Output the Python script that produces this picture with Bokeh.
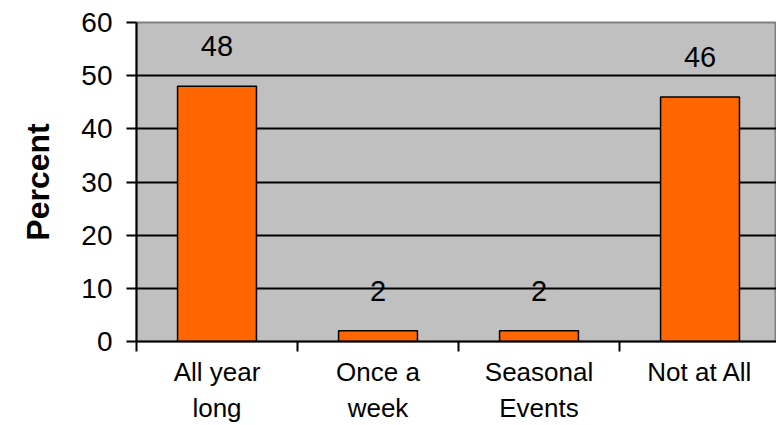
from bokeh.plotting import figure
from bokeh.models import ColumnDataSource, FixedTicker, Range1d
from bokeh.core.properties import value
from bokeh.embed import file_html
from bokeh.resources import INLINE

categories = ["All year\nlong", "Once a\nweek", "Seasonal\nEvents", "Not at All"]
values = [48, 2, 2, 46]
y_ticks = [0, 10, 20, 30, 40, 50, 60]

FONT = "Liberation Sans"

pos = [i + 0.5 for i in range(len(categories))]
src = ColumnDataSource(dict(x=pos, top=values, label=[str(v) for v in values]))

p = figure(width=776, height=425, output_backend="svg", toolbar_location=None,
           x_range=Range1d(0, 3.975), y_range=Range1d(0, 60),
           min_border_left=136, min_border_right=0, min_border_top=22,
           min_border_bottom=81)

p.background_fill_color = "#C0C0C0"
p.border_fill_color = "white"
p.outline_line_color = "#808080"
p.outline_line_width = 2

p.vbar(x="x", top="top", bottom=0, width=0.49, source=src,
       fill_color="#FF6600", line_color="black", line_width=1.5)

p.text(x="x", y="top", text="label", source=src, text_align="center",
       text_baseline="alphabetic", y_offset=-40, text_font=value(FONT),
       text_font_size="29px", text_color="black")

# y axis
p.yaxis.ticker = FixedTicker(ticks=y_ticks)
p.yaxis.axis_label = "Percent"
p.yaxis.axis_label_text_font = FONT
p.yaxis.axis_label_text_font_style = "bold"
p.yaxis.axis_label_text_font_size = "32px"
p.yaxis.axis_label_text_color = "black"
p.yaxis.axis_label_standoff = 22
p.yaxis.major_label_text_font = FONT
p.yaxis.major_label_text_font_size = "28px"
p.yaxis.major_label_text_color = "black"
p.yaxis.major_label_standoff = 14
p.yaxis.major_tick_in = 0
p.yaxis.major_tick_out = 10
p.yaxis.major_tick_line_width = 2
p.yaxis.minor_tick_line_color = None
p.yaxis.axis_line_width = 2

# x axis: labels at category centres, ticks at boundaries
p.xaxis.ticker = FixedTicker(ticks=pos, minor_ticks=list(range(len(categories) + 1)))
p.xaxis.major_label_overrides = {x: c for x, c in zip(pos, categories)}
p.xaxis.major_tick_line_color = None
p.xaxis.major_tick_in = 0
p.xaxis.major_tick_out = 10
p.xaxis.minor_tick_in = 0
p.xaxis.minor_tick_out = 10
p.xaxis.minor_tick_line_width = 2
p.xaxis.minor_tick_line_color = "black"
p.xaxis.axis_line_width = 2
p.xaxis.major_label_text_font = FONT
p.xaxis.major_label_text_font_size = "26px"
p.xaxis.major_label_text_color = "black"
p.xaxis.major_label_standoff = 5

p.xgrid.grid_line_color = None
p.ygrid.ticker = FixedTicker(ticks=[10, 20, 30, 40, 50])
p.ygrid.grid_line_color = "black"
p.ygrid.grid_line_width = 2

open("out.html", "w").write(file_html(p, INLINE))
